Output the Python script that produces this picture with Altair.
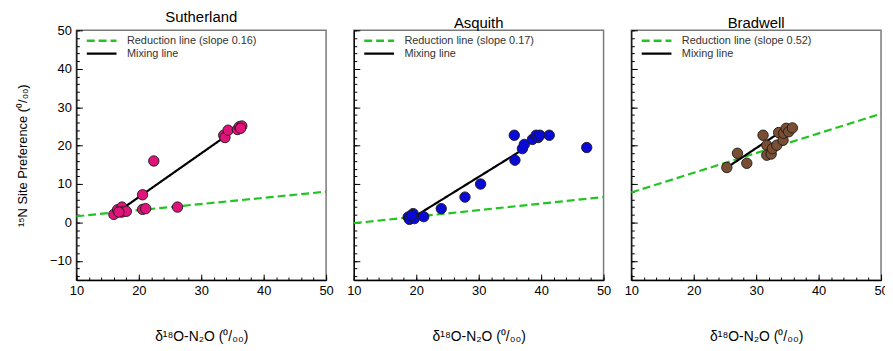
import altair as alt
import pandas as pd

FONT = "Liberation Sans"

# ---- data ----
suth_x = [16.0, 16.6, 17.3, 17.3, 18.0, 16.8, 20.6, 20.6, 21.1, 22.4, 26.2, 33.6, 33.8, 34.3, 35.8, 36.1, 36.5, 36.3]
suth_y = [2.1, 3.3, 4.0, 2.7, 2.9, 2.7, 7.2, 3.4, 3.6, 16.0, 4.0, 22.7, 22.1, 24.0, 24.2, 24.9, 25.1, 24.5]

asq_x = [18.7, 18.9, 19.5, 19.7, 19.2, 21.2, 24.0, 27.8, 30.3, 35.7, 35.8, 37.0, 37.3, 38.6, 39.2, 39.5, 39.8, 41.3, 47.3]
asq_y = [1.4, 0.8, 2.3, 1.0, 1.8, 1.5, 3.6, 6.6, 10.0, 22.7, 16.2, 19.2, 20.3, 21.6, 22.7, 22.1, 22.7, 22.7, 19.5]

brad_x = [25.3, 27.0, 28.5, 31.1, 31.7, 31.7, 32.4, 32.6, 33.3, 33.6, 34.3, 34.4, 34.8, 35.2, 35.8]
brad_y = [14.3, 18.0, 15.4, 22.7, 20.1, 17.5, 17.8, 19.2, 20.1, 23.4, 21.4, 23.2, 24.5, 23.6, 24.6]

# reduction lines (x endpoints, y endpoints)
suth_red = ([10, 50], [1.6, 8.0])
asq_red = ([10, 50], [-0.2, 6.6])
brad_red = ([10, 50], [7.8, 28.3])

# mixing lines
suth_mix = ([17.2, 33.7], [3.4, 22.2])
asq_mix = ([20.0, 36.7], [1.8, 18.6])
brad_mix = ([25.7, 33.3], [14.7, 22.9])

slopes = ["0.16", "0.17", "0.52"]
sites = ["Sutherland", "Asquith", "Bradwell"]
colors = ["#E0137A", "#0A0AD6", "#7A4E33"]

x_major = [10, 20, 30, 40, 50]
x_minor = list(range(10, 51, 2))
y_major = [-10, 0, 10, 20, 30, 40, 50]
y_minor = list(range(-14, 51, 2))

W = 252
H = 252

xscale = alt.Scale(domain=[10, 50], nice=False, zero=False)
yscale = alt.Scale(domain=[-15, 50], nice=False, zero=False)


def tick_axis(orient, offset, values, size):
    return alt.Axis(orient=orient, offset=offset, values=values, tickSize=size, tickColor="black",
                    tickWidth=1, labels=False, domain=False, title=None, grid=False,
                    minExtent=0, maxExtent=0)


def panel(name, xs, ys, color, red, mix, slope, show_y):
    red_label = f"Reduction line (slope {slope})"
    mix_label = "Mixing line"
    dom = [red_label, mix_label]
    cscale = alt.Scale(domain=dom, range=["#22C422", "#000000"])
    dscale = alt.Scale(domain=dom, range=[[8, 4], [1, 0]])
    legend = alt.Legend(
        title=None, orient="none", legendX=9, legendY=4,
        symbolType="M-1,0H5", symbolSize=100, symbolStrokeWidth=2.5,
        labelFontSize=11, labelColor="#333333", labelFont=FONT, labelOffset=29,
        rowPadding=1,
    )

    pts_df = pd.DataFrame({"x": xs, "y": ys})
    red_df = pd.DataFrame({"x": red[0], "y": red[1], "kind": [red_label] * 2})
    mix_df = pd.DataFrame({"x": mix[0], "y": mix[1], "kind": [mix_label] * 2})

    if show_y:
        y_main = alt.Axis(values=y_major, ticks=False, labelFontSize=13, labelColor="black",
                          labelFont=FONT, labelPadding=5, labelFlush=False,
                          domainColor="black", domainWidth=1.2,
                          title="¹⁵N Site Preference (⁰/₀₀)", titleFont=FONT, titleFontSize=13,
                          titleFontWeight="normal", titleColor="black", titlePadding=20, grid=False)
    else:
        y_main = alt.Axis(values=y_major, ticks=False, labels=False, domainColor="black",
                          domainWidth=1.2, title=None, grid=False)
    x_main = alt.Axis(values=x_major, ticks=False, labelFontSize=13, labelColor="black",
                      labelFont=FONT, labelPadding=5, labelFlush=False,
                      domainColor="black", domainWidth=1.2,
                      title="δ¹⁸O-N₂O (⁰/₀₀)", titleFont=FONT, titleFontSize=14,
                      titleFontWeight="normal", titleColor="black", titlePadding=32, grid=False)

    red_line = alt.Chart(red_df).mark_line(strokeWidth=2.2).encode(
        x=alt.X("x:Q", scale=xscale, axis=tick_axis("top", -H, x_major, 6)),
        y=alt.Y("y:Q", scale=yscale, axis=tick_axis("right", -W, y_major, 6)),
        color=alt.Color("kind:N", scale=cscale, legend=legend),
        strokeDash=alt.StrokeDash("kind:N", scale=dscale, legend=legend),
    )
    mix_line = alt.Chart(mix_df).mark_line(strokeWidth=2.2).encode(
        x=alt.X("x:Q", scale=xscale, axis=tick_axis("top", -H, x_minor, 3)),
        y=alt.Y("y:Q", scale=yscale, axis=tick_axis("right", -W, y_minor, 3)),
        color=alt.Color("kind:N", scale=cscale, legend=legend),
        strokeDash=alt.StrokeDash("kind:N", scale=dscale, legend=legend),
    )
    pts = alt.Chart(pts_df).mark_point(
        filled=True, size=110, shape="circle", fill=color, stroke="#1a1a1a",
        strokeWidth=0.9, opacity=1, fillOpacity=1,
    ).encode(
        x=alt.X("x:Q", scale=xscale, axis=x_main),
        y=alt.Y("y:Q", scale=yscale, axis=y_main),
    )
    return alt.layer(red_line, mix_line, pts).resolve_axis(x="independent", y="independent").properties(
        width=W, height=H,
        title=alt.TitleParams(name, fontSize=15, fontWeight="normal", font=FONT, color="black",
                              offset=-1, anchor="middle"),
    )


p1 = panel(sites[0], suth_x, suth_y, colors[0], suth_red, suth_mix, slopes[0], True)
p2 = panel(sites[1], asq_x, asq_y, colors[1], asq_red, asq_mix, slopes[1], False)
p3 = panel(sites[2], brad_x, brad_y, colors[2], brad_red, brad_mix, slopes[2], False)

chart = alt.hconcat(p1, p2, p3, spacing=28, bounds="flush").resolve_scale(
    color="independent", strokeDash="independent"
).properties(
    padding={"left": 8, "top": 0, "right": -4, "bottom": 0}
).configure_view(
    stroke="#7a7a7a", strokeWidth=1.5
)

chart.save("out.html", embed_options={"renderer": "svg", "actions": False})
